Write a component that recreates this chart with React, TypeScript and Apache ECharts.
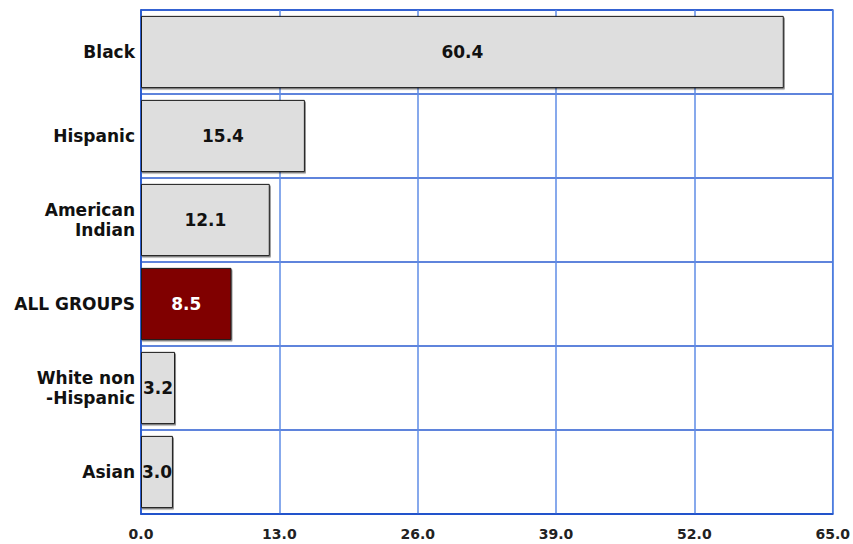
import React, { useEffect, useRef } from "react";
import * as echarts from "echarts";

const categories = [
  "Black",
  "Hispanic",
  "American\nIndian",
  "ALL GROUPS",
  "White non\n-Hispanic",
  "Asian",
];
const values = [60.4, 15.4, 12.1, 8.5, 3.2, 3.0];
const highlightCategory = "ALL GROUPS";
const xTicks = [0, 13, 26, 39, 52, 65];

const FONT = "'DejaVu Sans', Verdana, sans-serif";

export default function App() {
  const ref = useRef<HTMLDivElement>(null);
  useEffect(() => {
    if (!ref.current) return;
    const chart = echarts.init(ref.current, null, { renderer: "svg" });
    const data = values.map((v, i) => {
      const hi = categories[i] === highlightCategory;
      return {
        value: v,
        itemStyle: {
          color: hi ? "#800000" : "#dedede",
        },
        label: { color: hi ? "#ffffff" : "#111111" },
      };
    });
    chart.setOption({
      animation: false,
      backgroundColor: "#ffffff",
      grid: {
        left: 141,
        right: 19,
        top: 10,
        bottom: 30,
        show: true,
        borderColor: "#1c4fc8",
        borderWidth: 1.5,
        backgroundColor: "transparent",
      },
      xAxis: {
        type: "value",
        min: xTicks[0],
        max: xTicks[xTicks.length - 1],
        interval: xTicks[1] - xTicks[0],
        axisLine: { show: true, lineStyle: { color: "#1c4fc8", width: 1.5 } },
        axisTick: { show: false },
        splitLine: { show: true, lineStyle: { color: "#5f8de6", width: 1.5 } },
        axisLabel: {
          margin: 13,
          fontFamily: FONT,
          fontWeight: "bold",
          fontSize: 14,
          color: "#222222",
          formatter: (v: number) => v.toFixed(1),
        },
      },
      yAxis: {
        type: "category",
        data: categories,
        inverse: true,
        axisLine: { show: true, lineStyle: { color: "#1c4fc8", width: 1.5 } },
        axisTick: { show: false },
        splitLine: { show: true, lineStyle: { color: "#2a5bd0", width: 1.5 } },
        axisLabel: {
          margin: 6,
          fontFamily: FONT,
          fontWeight: "bold",
          fontSize: 17,
          lineHeight: 20,
          color: "#111111",
          align: "right",
        },
      },
      series: [
        {
          type: "bar",
          data,
          barCategoryGap: "14%",
          itemStyle: {
            borderColor: "#1a1a1a",
            borderWidth: 1,
            shadowColor: "rgba(0,0,0,0.45)",
            shadowOffsetX: 1,
            shadowOffsetY: 1.5,
            shadowBlur: 0,
          },
          label: {
            show: true,
            position: "inside",
            fontFamily: FONT,
            fontWeight: "bold",
            fontSize: 17,
            formatter: (p: any) => Number(p.value).toFixed(1),
          },
        },
      ],
    });
    return () => chart.dispose();
  }, []);
  return (
    <div
      ref={ref}
      style={{ position: "fixed", left: 0, top: 0, width: 853, height: 544 }}
    />
  );
}
